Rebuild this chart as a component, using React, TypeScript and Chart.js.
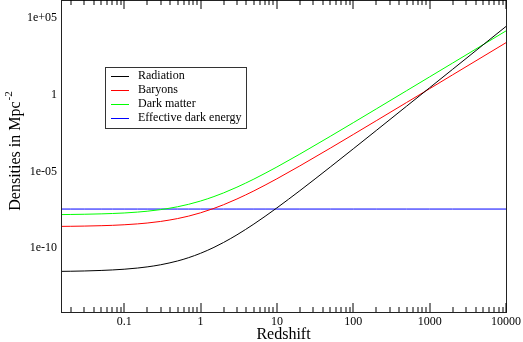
import React, { useEffect, useRef } from "react";
import { Chart, registerables } from "chart.js";

Chart.register(...registerables);

const redshift = [0.015, 0.02, 0.03, 0.05, 0.07, 0.1, 0.15, 0.2, 0.3, 0.5, 0.7, 1, 1.5, 2, 3, 5, 7, 10, 20, 50, 100, 200, 500, 1000, 2000, 5000, 10000];
const radiation = [3.13e-12, 3.19e-12, 3.32e-12, 3.59e-12, 3.87e-12, 4.32e-12, 5.16e-12, 6.12e-12, 8.43e-12, 1.49e-11, 2.46e-11, 4.72e-11, 1.15e-10, 2.39e-10, 7.55e-10, 3.82e-9, 1.21e-8, 4.32e-8, 5.74e-7, 2.0e-5, 3.07e-4, 4.82e-3, 0.187, 2.96, 47.3, 1846, 29530];
const baryons = [2.69e-9, 2.73e-9, 2.81e-9, 2.98e-9, 3.15e-9, 3.42e-9, 3.91e-9, 4.44e-9, 5.65e-9, 8.68e-9, 1.26e-8, 2.06e-8, 4.02e-8, 6.94e-8, 1.65e-7, 5.55e-7, 1.32e-6, 3.42e-6, 2.38e-5, 3.41e-4, 2.65e-3, 0.0209, 0.325, 2.58, 20.6, 321.5, 2572];
const darkMatter = [1.58e-8, 1.61e-8, 1.66e-8, 1.76e-8, 1.86e-8, 2.01e-8, 2.3e-8, 2.62e-8, 3.33e-8, 5.11e-8, 7.42e-8, 1.21e-7, 2.37e-7, 4.09e-7, 9.72e-7, 3.27e-6, 7.77e-6, 2.01e-5, 1.4e-4, 2.01e-3, 0.0156, 0.123, 1.91, 15.2, 121, 1894, 15150];
const darkEnergy = [3.63e-8, 3.63e-8, 3.63e-8, 3.63e-8, 3.63e-8, 3.63e-8, 3.63e-8, 3.63e-8, 3.63e-8, 3.63e-8, 3.63e-8, 3.63e-8, 3.63e-8, 3.63e-8, 3.63e-8, 3.63e-8, 3.63e-8, 3.63e-8, 3.63e-8, 3.63e-8, 3.63e-8, 3.63e-8, 3.63e-8, 3.63e-8, 3.63e-8, 3.63e-8, 3.63e-8];

const seriesLabels = ["Radiation", "Baryons", "Dark matter", "Effective dark energy"];
const seriesColors = ["#000000", "#ff0000", "#00ff00", "#0000ff"];

const xTickValues = [0.1, 1, 10, 100, 1000, 10000];
const xTickLabels = ["0.1", "1", "10", "100", "1000", "10000"];
const xMinorTickValues = [
  0.02, 0.03, 0.04, 0.05, 0.06, 0.07, 0.08, 0.09,
  0.2, 0.3, 0.4, 0.5, 0.6, 0.7, 0.8, 0.9,
  2, 3, 4, 5, 6, 7, 8, 9,
  20, 30, 40, 50, 60, 70, 80, 90,
  200, 300, 400, 500, 600, 700, 800, 900,
  2000, 3000, 4000, 5000, 6000, 7000, 8000, 9000,
];
const yTickValues = [1e5, 1, 1e-5, 1e-10];
const yTickLabels = ["1e+05", "1", "1e-05", "1e-10"];

const xMin = 0.0149;
const xMax = 10000;
const yMin = 7e-15;
const yMax = 1.35e6;

const FONT = "'Liberation Serif', 'DejaVu Serif', serif";

const overlay = {
  id: "overlay",
  afterDraw(chart: any) {
    const ctx: CanvasRenderingContext2D = chart.ctx;
    const area = chart.chartArea;
    const xs = chart.scales.x;
    const ys = chart.scales.y;
    ctx.save();
    ctx.setLineDash([]);
    ctx.lineWidth = 1;
    ctx.globalAlpha = 1;
    const Li = Math.round(area.left);
    const Ri = Math.round(area.right);
    const Ti = 0;
    const Bi = Math.round(area.bottom);
    // frame
    ctx.fillStyle = "#222222";
    ctx.fillRect(Li, Ti, Ri - Li + 1, 1);
    ctx.fillRect(Li, Bi, Ri - Li + 1, 1);
    ctx.fillRect(Li, Ti, 1, Bi - Ti + 1);
    ctx.fillRect(Ri, Ti, 1, Bi - Ti + 1);
    // x ticks top and bottom (inward)
    ctx.strokeStyle = "#000000";
    ctx.lineWidth = 1;
    const allTicks = xTickValues.concat(xMinorTickValues);
    ctx.beginPath();
    for (let i = 0; i < allTicks.length; i++) {
      const v = allTicks[i];
      const len = i < xTickValues.length ? 9 : 5;
      const px = Math.round(xs.getPixelForValue(v));
      ctx.moveTo(px, Bi);
      ctx.lineTo(px, Bi - len);
      ctx.moveTo(px, Ti);
      ctx.lineTo(px, Ti + len);
    }
    ctx.stroke();
    // x tick labels
    ctx.fillStyle = "#000";
    ctx.font = `12px ${FONT}`;
    ctx.textAlign = "center";
    ctx.textBaseline = "middle";
    xTickValues.forEach((v, i) => {
      ctx.fillText(xTickLabels[i], xs.getPixelForValue(v), 322);
    });
    // y tick labels
    ctx.textAlign = "right";
    yTickValues.forEach((v, i) => {
      ctx.fillText(yTickLabels[i], 57, ys.getPixelForValue(v));
    });
    // x title
    ctx.font = `16px ${FONT}`;
    ctx.textAlign = "center";
    ctx.textBaseline = "middle";
    ctx.fillText("Redshift", (area.left + area.right) / 2, 335);
    // y title with superscript
    ctx.save();
    ctx.translate(20, 151);
    ctx.rotate(-Math.PI / 2);
    ctx.textBaseline = "alphabetic";
    ctx.textAlign = "left";
    ctx.font = `16px ${FONT}`;
    const main = "Densities in Mpc";
    const mw = ctx.measureText(main).width;
    ctx.font = `11px ${FONT}`;
    const sup = "-2";
    const sw = ctx.measureText(sup).width;
    const total = mw + sw + 1;
    ctx.font = `16px ${FONT}`;
    ctx.fillText(main, -total / 2, 0);
    ctx.font = `11px ${FONT}`;
    ctx.fillText(sup, -total / 2 + mw + 1, -8);
    ctx.restore();
    // legend
    ctx.strokeStyle = "#333333";
    ctx.lineWidth = 1;
    ctx.strokeRect(105.5, 67.5, 141, 61);
    ctx.font = `12px ${FONT}`;
    ctx.textAlign = "left";
    ctx.textBaseline = "middle";
    const rows = [76, 90, 104, 118];
    chart.data.datasets.forEach((ds: any, i: number) => {
      const y = Math.round(rows[i]) + 0.5;
      ctx.strokeStyle = ds.borderColor;
      ctx.beginPath();
      ctx.moveTo(111, y);
      ctx.lineTo(129, y);
      ctx.stroke();
      ctx.fillStyle = "#000";
      ctx.fillText(ds.label, 138, rows[i]);
    });
    ctx.restore();
  },
};

export default function App() {
  const ref = useRef<HTMLCanvasElement>(null);
  useEffect(() => {
    const series = [radiation, baryons, darkMatter, darkEnergy];
    const chart = new Chart(ref.current!, {
      type: "line",
      data: {
        datasets: series.map((s, i) => ({
          label: seriesLabels[i],
          data: redshift.map((x, j) => ({ x, y: s[j] })),
          borderColor: seriesColors[i],
          backgroundColor: seriesColors[i],
          borderWidth: 1,
          pointRadius: 0,
          cubicInterpolationMode: "monotone",
          fill: false,
        })),
      },
      options: {
        responsive: false,
        animation: false,
        layout: { padding: { left: 61, right: 17, top: 1, bottom: 30 } },
        plugins: { legend: { display: false }, tooltip: { enabled: false } },
        scales: {
          x: { type: "logarithmic", min: xMin, max: xMax, display: false },
          y: { type: "logarithmic", min: yMin, max: yMax, display: false },
        },
      },
      plugins: [overlay],
    } as any);
    return () => chart.destroy();
  }, []);
  return (
    <div style={{ position: "absolute", left: 0, top: 0, width: 523, height: 342, background: "#fff" }}>
      <canvas ref={ref} width={523} height={342} />
    </div>
  );
}
